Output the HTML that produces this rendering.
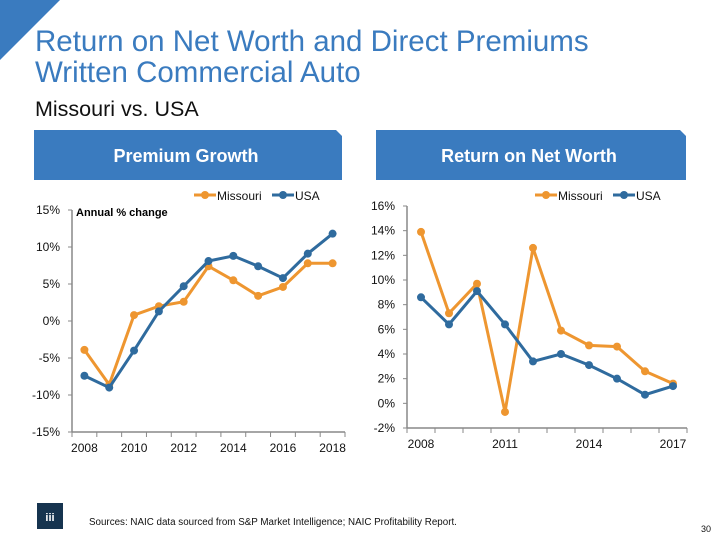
<!DOCTYPE html>
<html><head><meta charset="utf-8"><style>
body{margin:0;background:#fff}
svg{display:block;font-family:"Liberation Sans",Arial,sans-serif}
</style></head><body>
<svg id="s" width="720" height="540" viewBox="0 0 720 540">
<polygon points="0,0 60,0 0,60" fill="#3a7bbf"/>
<text x="35" y="51" font-size="29.5" fill="#3a7bbf">Return on Net Worth and Direct Premiums</text>
<text x="35" y="82" font-size="29.5" fill="#3a7bbf">Written Commercial Auto</text>
<text x="35" y="116" font-size="21.5" fill="#111">Missouri vs. USA</text>
<polygon points="34,130 336,130 342,136 342,180 34,180" fill="#3a7bbf"/>
<text x="186" y="162" font-size="18" font-weight="bold" fill="#fff" text-anchor="middle">Premium Growth</text>
<polygon points="376,130 680,130 686,136 686,180 376,180" fill="#3a7bbf"/>
<text x="529" y="162" font-size="18" font-weight="bold" fill="#fff" text-anchor="middle">Return on Net Worth</text>
<g id="left"></g><g id="right"></g>
<rect x="37" y="503" width="26" height="26" fill="#16344f"/>
<text x="50" y="521" font-size="11" font-weight="bold" fill="#fff" text-anchor="middle">iii</text>
<text x="89" y="525" font-size="9.8" fill="#111">Sources: NAIC data sourced from S&amp;P Market Intelligence; NAIC Profitability Report.</text>
<text x="711" y="532" font-size="9" fill="#111" text-anchor="end">30</text>
</svg>
<script>
const leftYears=[2008,2009,2010,2011,2012,2013,2014,2015,2016,2017,2018];
const leftMissouri=[-3.9,-8.6,0.8,2.0,2.6,7.4,5.5,3.4,4.6,7.8,7.8];
const leftUSA=[-7.4,-9.0,-4.0,1.3,4.7,8.1,8.8,7.4,5.8,9.1,11.8];
const leftTicks=[15,10,5,0,-5,-10,-15];
const rightYears=[2008,2009,2010,2011,2012,2013,2014,2015,2016,2017];
const rightMissouri=[13.9,7.3,9.7,-0.7,12.6,5.9,4.7,4.6,2.6,1.6];
const rightUSA=[8.6,6.4,9.1,6.4,3.4,4.0,3.1,2.0,0.7,1.4];
const rightTicks=[16,14,12,10,8,6,4,2,0,-2];
const NS='http://www.w3.org/2000/svg';
function mk(p,t,a){const e=document.createElementNS(NS,t);for(const k in a)e.setAttribute(k,a[k]);p.appendChild(e);return e;}
function chart(g,cfg){
  const {x0,x1,yTop,yBot,vMax,vMin,cats,series,ticks,labelEvery,lx,legX,legY,name}=cfg;
  const n=cats.length,w=(x1-x0)/n;
  const X=i=>x0+w*(i+0.5);
  const Y=v=>yTop+(vMax-v)/(vMax-vMin)*(yBot-yTop);
  const ax=mk(g,'line',{x1:x0,y1:yTop,x2:x0,y2:yBot,stroke:'#888','stroke-width':1.5});
  
  
  const bx=mk(g,'line',{x1:x0,y1:yBot,x2:x1,y2:yBot,stroke:'#888','stroke-width':1.5});
  
  
  ticks.forEach(t=>{
    const y=Y(t);
    mk(g,'line',{x1:x0-4,y1:y,x2:x0,y2:y,stroke:'#888'});
    const tx=mk(g,'text',{x:lx,y:y+4,'font-size':12,'text-anchor':'end',fill:'#111'});
    tx.textContent=t+'%';
    
    
  });
  for(let i=0;i<=n;i++)mk(g,'line',{x1:x0+w*i,y1:yBot,x2:x0+w*i,y2:yBot+5,stroke:'#888'});
  cats.forEach((c,i)=>{
    if(i%labelEvery)return;
    const tx=mk(g,'text',{x:X(i),y:yBot+20,'font-size':12,'text-anchor':'middle',fill:'#111'});
    tx.textContent=c;
    
    
  });
  series.forEach(s=>{
    const pl=mk(g,'polyline',{points:s.vals.map((v,i)=>X(i)+','+Y(v)).join(' '),fill:'none',stroke:s.color,'stroke-width':3});
    
    
    s.vals.forEach((v,i)=>{
      const c=mk(g,'circle',{cx:X(i),cy:Y(v),r:4,fill:s.color});
      
      
    });
  });
  let lxp=legX;
  series.forEach(s=>{
    mk(g,'line',{x1:lxp,y1:legY,x2:lxp+22,y2:legY,stroke:s.color,'stroke-width':3});
    mk(g,'circle',{cx:lxp+11,cy:legY,r:4,fill:s.color});
    const t=mk(g,'text',{x:lxp+23,y:legY+5,'font-size':12,fill:'#111'});
    t.textContent=s.label;
    
    
    lxp+=s.label==='Missouri'?78:0;
  });
}
const O='#ee9630',B='#2f6b9e';
chart(document.getElementById('left'),{x0:72,x1:345,yTop:210,yBot:432,vMax:15,vMin:-15,cats:leftYears,
  series:[{key:'missouri',label:'Missouri',vals:leftMissouri,color:O},{key:'usa',label:'USA',vals:leftUSA,color:B}],
  ticks:leftTicks,labelEvery:2,lx:60,legX:194,legY:195,name:'premium-growth'});
const an=document.createElementNS(NS,'text');
an.setAttribute('x',76);an.setAttribute('y',216);an.setAttribute('font-size',11);an.setAttribute('font-weight','bold');
an.textContent='Annual % change';


document.getElementById('left').appendChild(an);
chart(document.getElementById('right'),{x0:407,x1:687,yTop:206,yBot:428,vMax:16,vMin:-2,cats:rightYears,
  series:[{key:'missouri',label:'Missouri',vals:rightMissouri,color:O},{key:'usa',label:'USA',vals:rightUSA,color:B}],
  ticks:rightTicks,labelEvery:3,lx:395,legX:535,legY:195,name:'rnw'});
</script>
</body></html>
